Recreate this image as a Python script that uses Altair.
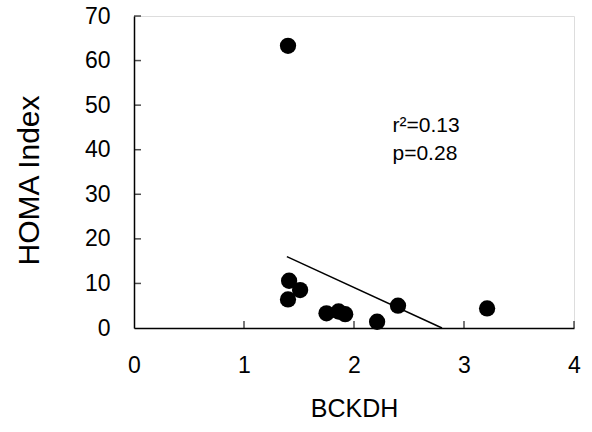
import altair as alt
import pandas as pd

bckdh = [1.40, 1.41, 1.51, 1.40, 1.75, 1.86, 1.92, 2.21, 2.40, 3.21]
homa = [63.3, 10.6, 8.5, 6.4, 3.3, 3.7, 3.1, 1.4, 5.0, 4.4]

fit_x = [1.39, 2.80]
fit_y = [16.0, 0.0]

x_ticks = [1, 2, 3, 4]
y_ticks = [10, 20, 30, 40, 50, 60, 70]

ann_text = ["r²=0.13", "p=0.28"]
ann_x = [2.35, 2.35]
ann_y = [45.3, 39.0]

FONT = "Liberation Sans"

pts = pd.DataFrame({"x": bckdh, "y": homa})
fit = pd.DataFrame({"x": fit_x, "y": fit_y})
xt = pd.DataFrame({"x": x_ticks, "y": [0] * len(x_ticks)})
yt = pd.DataFrame({"x": [0] * len(y_ticks), "y": y_ticks})
ann = pd.DataFrame({"t": ann_text, "x": ann_x, "y": ann_y})

xs = alt.Scale(domain=[0, 4], nice=False)
ys = alt.Scale(domain=[0, 70], nice=False)

xaxis = alt.Axis(values=[0, 1, 2, 3, 4], format="d", tickSize=0, labelPadding=26, title="BCKDH",
                 labelFlush=False, labelOverlap=False,
                 titlePadding=19, grid=False, domainColor="black", domainWidth=1.5,
                 labelFont=FONT, titleFont=FONT, labelFontSize=23, titleFontSize=25,
                 labelColor="black", titleColor="black", titleFontWeight="normal")
yaxis = alt.Axis(values=[0, 10, 20, 30, 40, 50, 60, 70], format="d", tickSize=0, labelPadding=24,
                 labelFlush=False, labelOverlap=False,
                 title="HOMA Index", titlePadding=40, titleY=164, grid=False, domainColor="black",
                 domainWidth=1.5, labelFont=FONT, titleFont=FONT, labelFontSize=23,
                 titleFontSize=30, labelColor="black", titleColor="black",
                 titleFontWeight="normal")

base_pts = alt.Chart(pts).mark_circle(size=265, color="black", opacity=1).encode(
    x=alt.X("x:Q", scale=xs, axis=xaxis),
    y=alt.Y("y:Q", scale=ys, axis=yaxis),
)

line = alt.Chart(fit).mark_line(color="black", strokeWidth=1.5).encode(
    x=alt.X("x:Q", scale=xs), y=alt.Y("y:Q", scale=ys)
)

xtick = alt.Chart(xt).mark_tick(orient="vertical", size=7, thickness=1.5, color="black", yOffset=-3.5).encode(
    x=alt.X("x:Q", scale=xs), y=alt.Y("y:Q", scale=ys)
)
ytick = alt.Chart(yt).mark_tick(orient="horizontal", size=7, thickness=1.5, color="black", xOffset=3.5).encode(
    x=alt.X("x:Q", scale=xs), y=alt.Y("y:Q", scale=ys)
)

text = alt.Chart(ann).mark_text(align="left", baseline="middle", font=FONT, fontSize=21, color="black").encode(
    x=alt.X("x:Q", scale=xs), y=alt.Y("y:Q", scale=ys), text="t:N"
)

chart = alt.layer(base_pts, line, xtick, ytick, text).properties(
    width=440, height=312,
    autosize=alt.AutoSizeParams(type="none"),
    padding={"left": 134, "top": 16, "right": 18, "bottom": 104},
).configure_view(stroke=None).configure(background="white")

chart.save("out.html", embed_options={"renderer": "svg", "actions": False})
